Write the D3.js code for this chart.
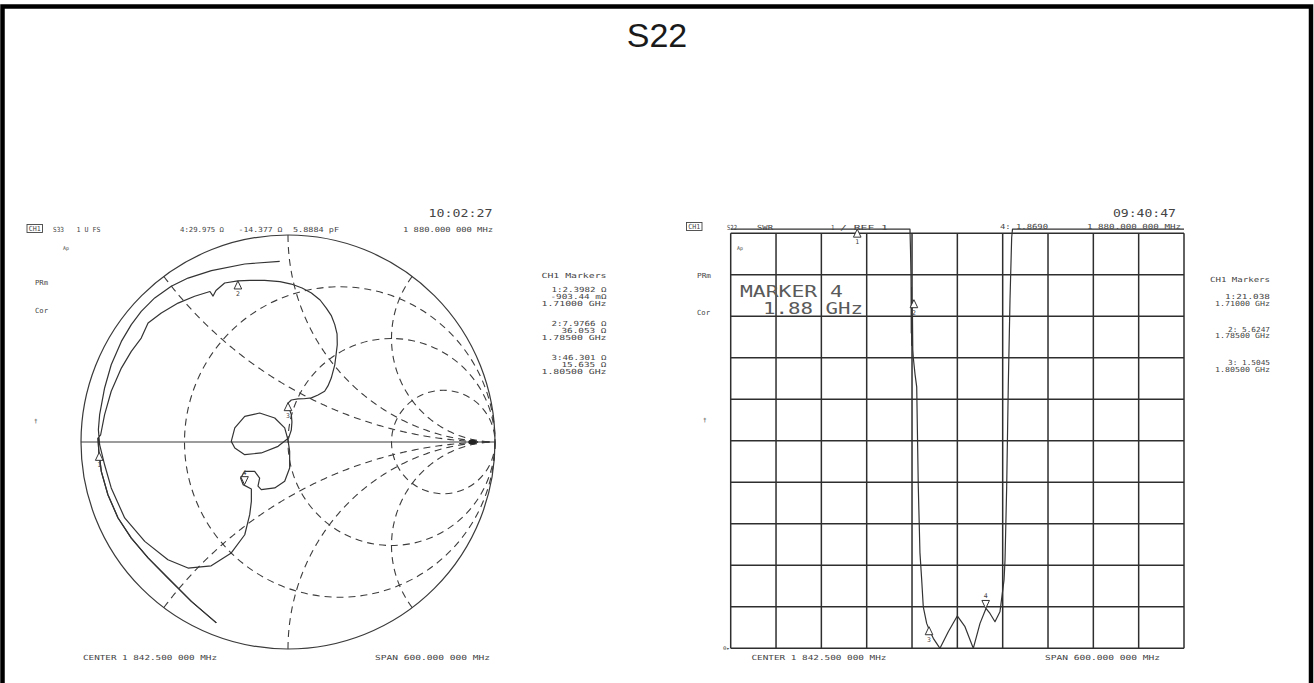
<!DOCTYPE html>
<meta charset="utf-8">
<style>
  body { margin: 0; background: #fff; }
  svg { display: block; }
  .lbl { font-family: "DejaVu Sans Mono", monospace; font-size: 7px; fill: #444; }
  .grat { fill: none; stroke: #3c3c3c; stroke-width: 1.1; stroke-dasharray: 7,5; }
  .trace { fill: none; stroke: #333; stroke-width: 1.2; stroke-linejoin: round; }
  .grid line { stroke: #2e2e2e; stroke-width: 1.5; }
</style>
<svg width="1314" height="683"></svg>
<script src="https://cdnjs.cloudflare.com/ajax/libs/d3/7.8.5/d3.min.js"></script>
<script>
// S33 reflection coefficient (re, im), 1.5425 -> 2.1425 GHz
var s33LowRe = [-0.346, -0.467, -0.580, -0.676, -0.757, -0.821, -0.870, -0.902, -0.914, -0.918];
var s33LowIm = [-0.874, -0.770, -0.657, -0.560, -0.464, -0.367, -0.255, -0.142, -0.045, 0.019];
var s33Re = [-0.905, -0.886, -0.854, -0.805, -0.757, -0.709, -0.676, -0.612, -0.531, -0.451, -0.377, -0.362, -0.348, -0.306, -0.242,
  -0.184, -0.113, -0.039, 0.016, 0.068, 0.113, 0.155, 0.185, 0.210, 0.226, 0.237, 0.238, 0.232, 0.226, 0.209, 0.193, 0.177, 0.145, 0.113, 0.077, 0.048, 0.016, 0.000, 0.005,
  0.016, 0.019, 0.016, 0.003, -0.048, -0.129, -0.209, -0.257, -0.274, -0.257, -0.209, -0.137, -0.064, -0.016, 0.000, 0.008, 0.008, -0.016, -0.064, -0.129,
  -0.145, -0.137, -0.161, -0.209, -0.229, -0.217, -0.177,
  -0.177, -0.185, -0.209, -0.274, -0.371, -0.483, -0.580, -0.692, -0.789, -0.854, -0.886, -0.910,
  -0.916, -0.910, -0.886, -0.854, -0.805, -0.757, -0.709, -0.644, -0.564, -0.483, -0.370, -0.209, -0.040];
var s33Im = [0.035, 0.132, 0.245, 0.357, 0.438, 0.502, 0.575, 0.623, 0.671, 0.704, 0.727, 0.705, 0.732, 0.768, 0.778,
  0.781, 0.781, 0.775, 0.763, 0.744, 0.720, 0.686, 0.647, 0.609, 0.567, 0.522, 0.470, 0.420, 0.373, 0.309, 0.271, 0.245, 0.227, 0.213, 0.209, 0.208, 0.203, 0.188, 0.164,
  0.132, 0.097, 0.058, 0.019, -0.021, -0.053, -0.061, -0.029, 0.003, 0.068, 0.124, 0.140, 0.116, 0.068, 0.010, -0.045, -0.126, -0.190, -0.222, -0.230,
  -0.213, -0.174, -0.142, -0.142, -0.174, -0.206, -0.227,
  -0.287, -0.351, -0.448, -0.536, -0.598, -0.609, -0.569, -0.480, -0.367, -0.222, -0.110, -0.013,
  0.060, 0.132, 0.261, 0.373, 0.486, 0.567, 0.631, 0.696, 0.752, 0.792, 0.828, 0.860, 0.873];

var smithMarkerRe = [-0.912, -0.242, 0.000, -0.210];
var smithMarkerIm = [-0.050, 0.778, 0.190, -0.206];
var markerIds = ["1", "2", "3", "4"];

// graticule: constant resistance circles and constant reactance arcs
var rCircles = [1 / 3, 1, 3];
var xArcs = [0.5, 1, 2, -0.5, -1, -2];

// S22 SWR trace (GHz, SWR), values above the top are clipped by the display
var swrFreq = [1.5425, 1.7798, 1.7805, 1.7812, 1.7815, 1.7818, 1.7821, 1.7824, 1.7827, 1.7831, 1.7835, 1.7842, 1.7865, 1.7887,
  1.7908, 1.7930, 1.7953, 1.7974, 1.8019, 1.8054, 1.8107, 1.8195, 1.8305, 1.8424, 1.8526, 1.8636, 1.8725, 1.8804, 1.8857,
  1.8923, 1.8989, 1.9043, 1.9056, 1.9078, 1.9099, 1.9122, 1.9144, 1.9155, 2.1425];
var swrValue = [11.1, 11.1, 10.6, 9.9, 8.6, 9.7, 8.3, 9.4, 8.3, 9.0, 8.2, 8.0, 7.6, 7.3,
  4.9, 3.3, 2.65, 2.0, 1.6, 1.44, 1.24, 1.0, 1.4, 1.78, 1.52, 1.0, 1.6, 1.96, 1.84,
  1.64, 1.88, 2.65, 3.13, 4.89, 7.3, 9.4, 10.9, 11.1, 11.1];
var swrMarkerFreq = [1.71, 1.785, 1.805, 1.88];
var swrMarkerValue = [11.1, 9.4, 1.52, 1.96];

var leftMarkerText = ["1:2.3982 Ω", "-903.44 mΩ", "1.71000 GHz", "2:7.9766 Ω", "36.053 Ω", "1.78500 GHz", "3:46.301 Ω", "15.635 Ω", "1.80500 GHz"];
var rightMarkerText = ["1:21.038", "1.71000 GHz", "2: 5.6247", "1.78500 GHz", "3: 1.5045", "1.80500 GHz"];

var svg = d3.select("svg");

function label(x, y, s, len, opts) {
  opts = opts || {};
  var t = svg.append("text").attr("class", "lbl").attr("x", x).attr("y", y).text(s);
  if (opts.size) t.style("font-size", opts.size + "px");
  if (opts.anchor) t.attr("text-anchor", opts.anchor);
  if (opts.fill) t.style("fill", opts.fill);
  if (len) t.attr("textLength", len).attr("lengthAdjust", "spacingAndGlyphs");
  return t;
}

function marker(x, y, id, down) {
  var h = 8, w = 3.8;
  var p = down ? [[x, y], [x - w, y - h], [x + w, y - h]] : [[x, y], [x - w, y + h], [x + w, y + h]];
  svg.append("path").attr("d", "M" + p.join("L") + "Z")
    .attr("fill", "#fff").attr("stroke", "#333").attr("stroke-width", 1);
  label(x, down ? y - h - 2 : y + h + 7, id, null, {anchor: "middle", size: 6.5});
}

// frame + title
svg.append("rect").attr("x", 2.5).attr("y", 6.5).attr("width", 1308.5).attr("height", 720)
  .attr("fill", "none").attr("stroke", "#000").attr("stroke-width", 4.5);
svg.append("text").attr("x", 657).attr("y", 46.5).attr("text-anchor", "middle")
  .style("font-family", "'Liberation Sans', Arial, sans-serif").style("font-size", "34px").style("fill", "#1a1a1a")
  .text("S22");

// ---------------- Smith chart ----------------
var gx = d3.scaleLinear().domain([-1, 1]).range([81, 495]);
var gy = d3.scaleLinear().domain([-1, 1]).range([649, 235]);
var toPx = d3.line().x(function(d) { return gx(d[0]); }).y(function(d) { return gy(d[1]); });

function gamma(r, x) {
  var den = (r + 1) * (r + 1) + x * x;
  return [(r * r + x * x - 1) / den, 2 * x / den];
}

svg.append("circle").attr("cx", gx(0)).attr("cy", gy(0)).attr("r", gx(1) - gx(0))
  .attr("fill", "none").attr("stroke", "#3a3a3a").attr("stroke-width", 1.2);
svg.append("line").attr("x1", gx(-1)).attr("x2", gx(1)).attr("y1", gy(0)).attr("y2", gy(0))
  .attr("stroke", "#3a3a3a").attr("stroke-width", 1.2);

rCircles.forEach(function(r) {
  svg.append("circle").attr("class", "grat")
    .attr("cx", gx(r / (1 + r))).attr("cy", gy(0)).attr("r", gx(1 / (1 + r)) - gx(0));
});
xArcs.forEach(function(x) {
  var pts = d3.range(0, 0.995, 0.004).map(function(t) { return gamma(t / (1 - t), x); });
  svg.append("path").attr("class", "grat").attr("d", toPx(pts));
});

var lowPts = s33LowRe.map(function(v, i) { return [v, s33LowIm[i]]; });
var restPts = s33Re.map(function(v, i) { return [v, s33Im[i]]; });
svg.append("path").attr("class", "trace").attr("d", toPx(lowPts.concat(restPts)));
svg.append("path").attr("class", "trace").attr("stroke-width", 2.2).attr("d", toPx(lowPts));

svg.append("ellipse").attr("cx", gx(0.89)).attr("cy", gy(0)).attr("rx", 4).attr("ry", 2.6).attr("fill", "#222");

smithMarkerRe.forEach(function(v, i) {
  marker(gx(v), gy(smithMarkerIm[i]), markerIds[i], i === 3);
});

// left texts
svg.append("rect").attr("x", 27).attr("y", 224.5).attr("width", 15.5).attr("height", 8)
  .attr("fill", "none").attr("stroke", "#444").attr("stroke-width", 0.9);
label(28.8, 231.3, "CH1", 12);
label(53, 231.5, "S33", 11);
label(76.5, 231.5, "1 U FS", 24);
label(180, 231.5, "4:29.975 Ω", 44);
label(238.5, 231.5, "-14.377 Ω", 44);
label(293, 231.5, "5.8884 pF", 46);
label(403, 231.5, "1 880.000 000 MHz", 90);
label(428.5, 216.5, "10:02:27", 64, {size: 10});
label(63, 250, "Ap", 6, {size: 5});
label(35, 284.5, "PRm", 13);
label(35, 313, "Cor", 13);
label(34, 423, "†", null, {size: 6});
label(541.5, 278, "CH1 Markers", 65);
var leftY = [292, 299, 305.5, 326, 333, 340, 360, 366.5, 374];
var leftW = [55, 56, 65, 55, 45, 65, 55, 45, 65];
leftMarkerText.forEach(function(s, i) { label(606.5, leftY[i], s, leftW[i], {anchor: "end"}); });
label(83, 659.5, "CENTER 1 842.500 000 MHz", 134);
label(375, 659.5, "SPAN 600.000 000 MHz", 115);

// ---------------- SWR grid ----------------
var fx = d3.scaleLinear().domain([1.5425, 2.1425]).range([730.7, 1184]);
var sy = d3.scaleLinear().domain([1, 11]).range([648.3, 233.3]);
var grid = svg.append("g").attr("class", "grid");
d3.range(11).forEach(function(i) {
  var f = 1.5425 + i * 0.06;
  grid.append("line").attr("x1", fx(f)).attr("x2", fx(f)).attr("y1", sy(1)).attr("y2", sy(11));
  grid.append("line").attr("x1", fx(1.5425)).attr("x2", fx(2.1425)).attr("y1", sy(1 + i)).attr("y2", sy(1 + i));
});

var swrLine = d3.line().x(function(d) { return fx(d[0]); }).y(function(d) { return sy(d[1]); });
svg.append("path").attr("class", "trace").attr("stroke-width", 1.3)
  .attr("d", swrLine(swrFreq.map(function(f, i) { return [f, swrValue[i]]; })));

swrMarkerFreq.forEach(function(f, i) {
  marker(fx(f), sy(swrMarkerValue[i]), markerIds[i], i === 3);
});

// right texts
svg.append("rect").attr("x", 686.5).attr("y", 222.5).attr("width", 15.5).attr("height", 8)
  .attr("fill", "none").attr("stroke", "#444").attr("stroke-width", 0.9);
label(688.3, 229.3, "CH1", 12);
label(727, 229.5, "S22", 10);
label(757, 229.5, "SWR", 16);
label(831, 229.5, "1", 3.5);
label(840, 229.5, "/ REF 1", 48);
label(1000, 229, "4: 1.8690", 48);
label(1087, 229, "1 880.000 000 MHz", 94);
label(1113, 217, "09:40:47", 63, {size: 10});
label(737, 250, "Ap", 6, {size: 5});
label(697, 277.5, "PRm", 14);
label(697, 314.5, "Cor", 13);
label(703, 422, "†", null, {size: 6});
label(723, 650, "0▸", 7, {size: 5});
label(740, 297, "MARKER 4", 103, {size: 15, fill: "#5a5a5a"});
label(763, 314, "1.88 GHz", 100, {size: 15, fill: "#5a5a5a"});
label(1210, 282, "CH1 Markers", 60);
var rightY = [299, 305.5, 331.5, 338, 365, 371.5];
var rightW = [45, 55, 42, 55, 42, 55];
rightMarkerText.forEach(function(s, i) { label(1270, rightY[i], s, rightW[i], {anchor: "end"}); });
label(751.5, 659.5, "CENTER 1 842.500 000 MHz", 135);
label(1045, 659.5, "SPAN 600.000 000 MHz", 115);
</script>
